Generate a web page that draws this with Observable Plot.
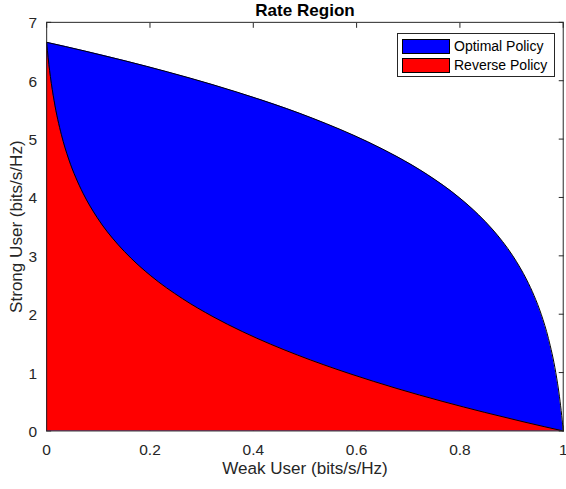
<!DOCTYPE html>
<html><head><meta charset="utf-8">
<script src="https://cdn.jsdelivr.net/npm/d3@7"></script>
<script src="https://cdn.jsdelivr.net/npm/@observablehq/plot@0.6"></script>
<style>
html,body{margin:0;padding:0;background:#fff;overflow:hidden;}
#wrap{position:relative;width:566px;height:489px;overflow:hidden;}
#legend{position:absolute;left:397px;top:33px;width:156px;height:42px;border:1px solid #262626;background:#fff;font-family:"Liberation Sans",Arial,Helvetica,sans-serif;font-size:14px;color:#000;}
.sw{position:absolute;left:4px;width:46px;height:13px;border:1px solid #000;}
.lb{position:absolute;left:56px;line-height:16px;white-space:nowrap;}
</style></head>
<body><div id="wrap"><div id="chart"></div><div id="legend"></div></div>
<script>
// Optimal policy boundary (weak user rate, strong user rate)
const weakOptimal = [0, 0.074, 0.152, 0.2345, 0.3219, 0.415, 0.5146, 0.6215, 0.6781, 0.737, 0.7984, 0.8365, 0.8625, 0.9024, 0.9159, 0.9296, 0.9434, 0.9574, 0.9714, 0.9856, 0.9928, 0.9971, 0.9986, 1];
const strongOptimal = [6.658, 6.508, 6.340, 6.150, 5.931, 5.672, 5.358, 4.954, 4.700, 4.392, 4.000, 3.700, 3.459, 3.000, 2.807, 2.585, 2.322, 2.000, 1.585, 1.000, 0.585, 0.263, 0.138, 0];
// Reverse policy boundary
const weakReverse = [0, 0.0014, 0.0072, 0.0144, 0.0286, 0.0426, 0.0566, 0.0704, 0.0976, 0.1375, 0.1635, 0.2016, 0.263, 0.3219, 0.3785, 0.433, 0.4854, 0.585, 0.6323, 0.6781, 0.7655, 0.848, 0.926, 1];
const strongReverse = [6.658, 6.521, 6.073, 5.658, 5.073, 4.658, 4.336, 4.073, 3.658, 3.199, 2.958, 2.658, 2.266, 1.958, 1.704, 1.488, 1.301, 0.986, 0.851, 0.727, 0.508, 0.318, 0.150, 0];

const seriesNames = ["Optimal Policy", "Reverse Policy"];
const seriesColors = ["#0000ff", "#ff0000"];
const xTicks = [0, 0.2, 0.4, 0.6, 0.8, 1];
const yTicks = [0, 1, 2, 3, 4, 5, 6, 7];
const titleText = "Rate Region";
const xLabel = "Weak User (bits/s/Hz)";
const yLabel = "Strong User (bits/s/Hz)";

const optimal = weakOptimal.map((w, i) => ({w, s: strongOptimal[i]}));
const reverse = weakReverse.map((w, i) => ({w, s: strongReverse[i]}));

const axisColor = "#262626";
const font = "'Liberation Sans', Arial, Helvetica, sans-serif";

const chart = Plot.plot({
  width: 570,
  height: 489,
  marginLeft: 46.5,
  marginRight: 3.3,
  marginTop: 22,
  marginBottom: 55.5,
  x: {domain: [0, 1]},
  y: {domain: [0, 7]},
  style: {fontFamily: font, fontSize: "15.6px", color: axisColor, background: "white", overflow: "visible"},
  marks: [
    Plot.axisX(xTicks, {anchor: "bottom", tickSize: -5, tickFormat: () => "", label: null, stroke: axisColor}),
    Plot.axisY(yTicks, {anchor: "left", tickSize: -5, tickFormat: () => "", label: null, stroke: axisColor}),
    Plot.areaY(optimal, {x: "w", y: "s", fill: seriesColors[0], curve: "monotone-x"}),
    Plot.line(optimal, {x: "w", y: "s", stroke: "#000", strokeWidth: 1, curve: "monotone-x"}),
    Plot.areaY(reverse, {x: "w", y: "s", fill: seriesColors[1], curve: "monotone-x"}),
    Plot.line(reverse, {x: "w", y: "s", stroke: "#000", strokeWidth: 1, curve: "monotone-x"}),
    Plot.axisX(xTicks, {anchor: "top", tickSize: -5, tickFormat: () => "", label: null, stroke: axisColor}),
    Plot.axisY(yTicks, {anchor: "right", tickSize: -5, tickFormat: () => "", label: null, stroke: axisColor}),
    Plot.axisX(xTicks, {anchor: "bottom", tickSize: 0, tickPadding: 12.8, label: null, fill: axisColor, fontSize: 15.6, tickFormat: d => String(d)}),
    Plot.axisY(yTicks, {anchor: "left", tickSize: 0, tickPadding: 9.5, label: null, fill: axisColor, fontSize: 15.6, dy: 1, tickFormat: d => String(d)}),
    Plot.frame({stroke: axisColor, strokeWidth: 1}),
    Plot.text([titleText], {frameAnchor: "top", dy: -6.7, lineAnchor: "bottom", fontWeight: "bold", fontSize: 17.2, fill: "#000"}),
    Plot.text([xLabel], {frameAnchor: "bottom", dy: 43.2, lineAnchor: "bottom", fontSize: 17.2, fill: axisColor}),
    Plot.text([yLabel], {frameAnchor: "left", dx: -24.8, rotate: -90, lineAnchor: "bottom", textAnchor: "middle", fontSize: 17.2, fill: axisColor})
  ]
});
document.getElementById("chart").appendChild(chart);

const legend = document.getElementById("legend");
seriesNames.forEach((name, i) => {
  const sw = document.createElement("div");
  sw.className = "sw";
  sw.style.top = (5 + i * 19) + "px";
  sw.style.background = seriesColors[i];
  legend.appendChild(sw);
  const lb = document.createElement("div");
  lb.className = "lb";
  lb.style.top = (4 + i * 19) + "px";
  lb.textContent = name;
  legend.appendChild(lb);
});
</script>
</body></html>
